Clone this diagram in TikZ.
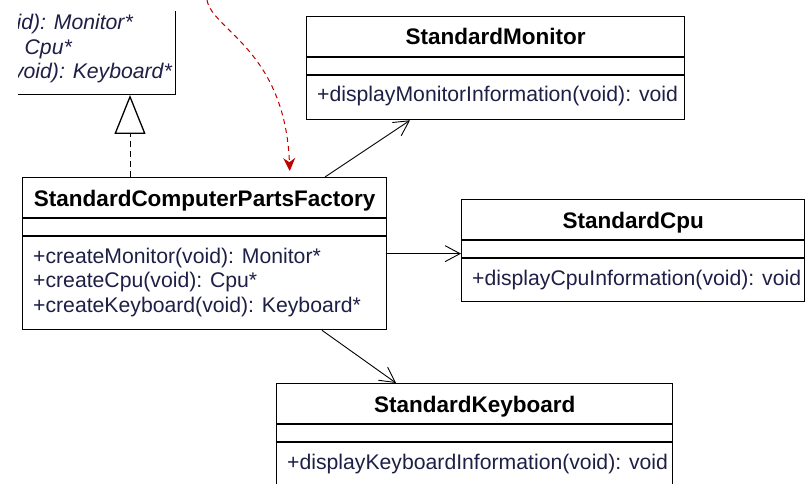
\documentclass[tikz,border=0pt]{standalone}
\usepackage{fontspec}
\setmainfont{Liberation Sans}
\usetikzlibrary{positioning, arrows.meta}
\definecolor{notered}{RGB}{192, 0, 0}
\definecolor{opcolor}{RGB}{30, 30, 70}

\begin{document}
\begin{tikzpicture}[
  x=1pt, y=-1pt,
  classbox/.style={rectangle, draw=black, line width=1.3pt, anchor=north west, inner sep=0pt},
  classname/.style={font=\fontsize{22.5}{24.5}\selectfont\bfseries, anchor=base, inner sep=0pt},
  operations/.style={font=\fontsize{21.2}{24.5}\selectfont, text=opcolor, align=left, anchor=base west, inner sep=0pt},
  absops/.style={operations, anchor=base east, font=\fontsize{21.2}{24.5}\selectfont\itshape},
  divider/.style={line width=1.3pt},
  assoc/.style={line width=0.9pt, -{Straight Barb[length=15pt, width=16pt]}},
  >=Stealth
]
\useasboundingbox (0,0) rectangle (808,484);
\clip (0,0) rectangle (808,484);

% abstract factory, cut off by the window
\begin{scope}
  \clip (18,12) rectangle (200,100);
  \node[classbox, anchor=south east, minimum width=360pt, minimum height=240pt] (abstractfactory) at (176,95) {};
  \node[absops] (absmonitor) at (133,30) {id): Monitor*};
  \node[absops] (abscpu) at (72,55) {Cpu*};
  \node[absops] (abskeyboard) at (172,79) {void): Keyboard*};
\end{scope}

% concrete classes
\node[classbox, minimum width=364pt, minimum height=152pt] (factory) at (22,177) {};
\node[classbox, minimum width=378pt, minimum height=103pt] (monitor) at (306,16) {};
\node[classbox, minimum width=343pt, minimum height=102pt] (cpu) at (461,199) {};
\node[classbox, minimum width=396pt, minimum height=130pt] (keyboard) at (276,383) {};

\node[classname] (factoryname) at ([yshift=-29pt]factory.north) {StandardComputerPartsFactory};
\node[classname] (monitorname) at ([yshift=-29pt]monitor.north) {StandardMonitor};
\node[classname] (cpuname) at ([yshift=-29pt]cpu.north) {StandardCpu};
\node[classname] (keyboardname) at ([yshift=-29pt]keyboard.north) {StandardKeyboard};

\foreach \cls in {factory, monitor, cpu, keyboard} {
  \draw[divider] ([yshift=-41pt]\cls.north west) -- ([yshift=-41pt]\cls.north east);
  \draw[divider] ([yshift=-59pt]\cls.north west) -- ([yshift=-59pt]\cls.north east);
}

% base anchor sits on the last line
\node[operations] (factoryops) at ([shift={(11pt,-135pt)}]factory.north west)
  {+createMonitor(void): Monitor*\\+createCpu(void): Cpu*\\+createKeyboard(void): Keyboard*};
\node[operations] (monitorops) at ([shift={(11pt,-86pt)}]monitor.north west) {+displayMonitorInformation(void): void};
\node[operations] (cpuops) at ([shift={(11pt,-86pt)}]cpu.north west) {+displayCpuInformation(void): void};
\node[operations] (keyboardops) at ([shift={(11pt,-86pt)}]keyboard.north west) {+displayKeyboardInformation(void): void};

% realization
\draw[line width=1pt, dash pattern=on 6pt off 4pt, -{Triangle[open, length=39pt, width=31pt, line width=1.3pt]}]
  ([xshift=108pt]factory.north west) -- ([xshift=108pt]factory.north west |- abstractfactory.south);

% associations
\draw[assoc] ([xshift=303pt]factory.north west) -- ([xshift=104pt]monitor.south west);
\draw[assoc] (factory.east) -- (factory.east -| cpu.west);
\draw[assoc] ([xshift=300pt]factory.south west) -- ([xshift=120pt]keyboard.north west);

% note link
\coordinate (notestart) at (207,0);
\draw[notered, line width=1pt, dash pattern=on 5pt off 4pt, -{Stealth[length=13pt, width=12pt]}, shorten >=6pt]
  (notestart) .. controls (212,30) and (285,50) .. ([xshift=268pt]factory.north west);

\end{tikzpicture}
\end{document}
